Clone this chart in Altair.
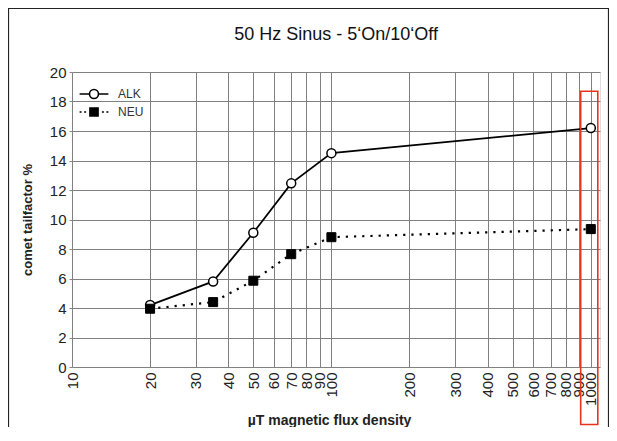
import altair as alt
import pandas as pd

# ---- data ----
flux = [20, 35, 50, 70, 100, 1000]
alk = [4.2, 5.8, 9.1, 12.45, 14.5, 16.2]
neu = [3.95, 4.4, 5.85, 7.65, 8.8, 9.35]
series_names = ["ALK", "NEU"]

x_ticks = [10, 20, 30, 40, 50, 60, 70, 80, 90, 100,
           200, 300, 400, 500, 600, 700, 800, 900, 1000]
y_ticks = [0, 2, 4, 6, 8, 10, 12, 14, 16, 18, 20]

# highlight box around the 1000 µT column
hl_x = [914]
hl_x2 = [1064]
hl_y = [18.7]
hl_y2 = [-3.9]

FONT = "Liberation Sans"

df = pd.DataFrame({
    "flux": flux + flux,
    "value": alk + neu,
    "series": ["ALK"] * len(flux) + ["NEU"] * len(flux),
})
hl = pd.DataFrame({"flux": hl_x, "x2": hl_x2, "value": hl_y, "y2": hl_y2})

xscale = alt.Scale(type="log", domain=[10, 1085], nice=False)
yscale = alt.Scale(domain=[0, 20], nice=False, zero=False)

xaxis = alt.Axis(
    values=x_ticks, format="d", labelAngle=270, labelOverlap=False,
    labelFlush=False, labelFont=FONT, labelFontSize=15, labelColor="#222",
    labelPadding=5, ticks=False, grid=True, gridColor="#808080",
    gridWidth=1, domain=False,
    title="µT magnetic flux density", titleFont=FONT, titleFontSize=14,
    titleFontWeight="bold", titleColor="#222", titleBaseline="alphabetic",
    titleY=57, titleX=257,
)
yaxis = alt.Axis(
    values=y_ticks, tickCount=11, labelOverlap=False, labelFont=FONT,
    labelFontSize=15, labelColor="#222",
    labelPadding=3, tickSize=3, tickColor="#888", grid=True,
    gridColor="#808080", gridWidth=1, domain=False,
    title="comet tailfactor %", titleFont=FONT, titleFontSize=13,
    titleFontWeight="bold", titleColor="#222", titlePadding=15,
)

X = alt.X("flux:Q", scale=xscale, axis=xaxis)
Y = alt.Y("value:Q", scale=yscale, axis=yaxis)

base = alt.Chart(df)
alk_data = base.transform_filter(alt.datum.series == "ALK")
neu_data = base.transform_filter(alt.datum.series == "NEU")

line_alk = alk_data.mark_line(color="black", strokeWidth=1.8).encode(x=X, y=Y)
line_neu = neu_data.mark_line(
    color="black", strokeWidth=2.2, strokeDash=[2.2, 6]
).encode(x=X, y=Y)

pts_alk = alk_data.mark_point(
    shape="circle", filled=True, fill="white", stroke="black",
    strokeWidth=1.5, size=81, opacity=1,
).encode(x=X, y=Y)

pts_neu = neu_data.mark_point(
    shape="square", filled=True, fill="black", stroke="black",
    strokeWidth=1, size=81, opacity=1,
).encode(x=X, y=Y)

alk_sym = ("M-1.6,0H-0.5 M0.5,0H1.6 "
           "M0.5,0A0.5,0.5 0 1,1 -0.5,0A0.5,0.5 0 1,1 0.5,0Z")
neu_sym = ("M-1.6,0H-1.38 M-1.1,0H-0.88 M0.88,0H1.1 M1.38,0H1.6 "
           "M-0.45,-0.45H0.45V0.45H-0.45Z")

legend_layer = base.transform_filter("false").mark_point(
    filled=True, strokeWidth=1.6, size=324, opacity=1,
).encode(
    x=X, y=Y,
    shape=alt.Shape("series:N",
                    scale=alt.Scale(domain=series_names,
                                    range=[alk_sym, neu_sym]),
                    legend=alt.Legend(
                        orient="top-left", offset=12, title=None,
                        labelFont=FONT, labelFontSize=12, labelColor="#333",
                        labelOffset=14, rowPadding=0, padding=0,
                        symbolSize=324, symbolStrokeWidth=1.6,
                        symbolOpacity=1)),
    fill=alt.Fill("series:N",
                  scale=alt.Scale(domain=series_names,
                                  range=["white", "black"])),
    stroke=alt.Stroke("series:N",
                      scale=alt.Scale(domain=series_names,
                                      range=["black", "black"])),
)

highlight = alt.Chart(hl).mark_rect(
    fillOpacity=0, stroke="#e8341c", strokeWidth=1.6,
).encode(x=X, x2="x2:Q", y=Y, y2="y2:Q")

frame = alt.Chart(hl).mark_rect(
    fillOpacity=0, stroke="#222", strokeWidth=1.2,
).encode(x=alt.value(-63.5), x2=alt.value(536.5),
         y=alt.value(-63.5), y2=alt.value(420))

chart = alt.layer(
    frame, line_alk, line_neu, pts_alk, pts_neu, legend_layer, highlight
).properties(
    width=528, height=295,
    autosize=alt.AutoSizeParams(type="none"),
    padding={"left": 64, "top": 64, "right": 9, "bottom": 60},
    title=alt.TitleParams(
        "50 Hz Sinus - 5\u2018On/10\u2018Off", font=FONT, fontSize=18,
        fontWeight="normal", color="#111", baseline="alphabetic",
        offset=0, dy=50, anchor="middle", frame="group",
    ),
).configure_view(stroke="#999", strokeWidth=1).configure(background="white")

chart.save("out.html", embed_options={"renderer": "svg", "actions": False})
